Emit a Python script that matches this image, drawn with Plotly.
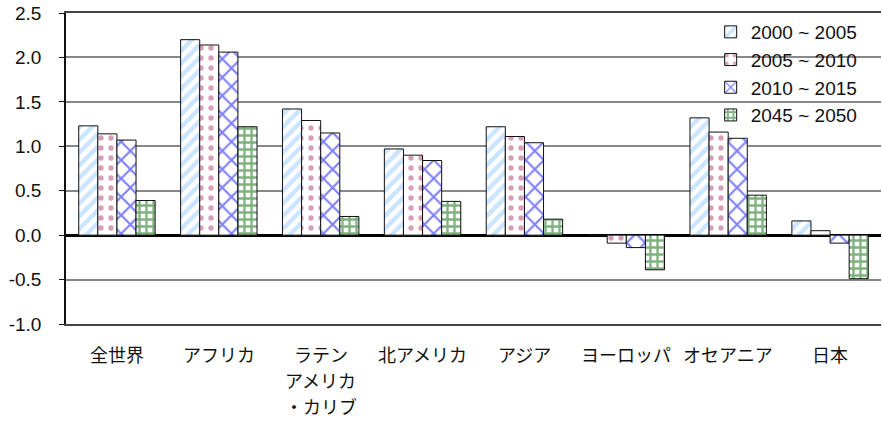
import plotly.graph_objects as go

# Regions (x-axis categories); the Latin America label wraps onto three lines
regions = ["全世界", "アフリカ", "ラテンアメリカ・カリブ", "北アメリカ", "アジア",
           "ヨーロッパ", "オセアニア", "日本"]
region_label_lines = [["全世界"], ["アフリカ"], ["ラテン", "アメリカ", "・カリブ"],
                      ["北アメリカ"], ["アジア"], ["ヨーロッパ"], ["オセアニア"], ["日本"]]

# Annual population growth rate (%) per period
periods = ["2000 ~ 2005", "2005 ~ 2010", "2010 ~ 2015", "2045 ~ 2050"]
g_2000_2005 = [1.23, 2.20, 1.42, 0.97, 1.22, 0.00, 1.32, 0.16]
g_2005_2010 = [1.14, 2.14, 1.29, 0.90, 1.11, -0.09, 1.16, 0.05]
g_2010_2015 = [1.07, 2.06, 1.15, 0.84, 1.04, -0.14, 1.09, -0.09]
g_2045_2050 = [0.39, 1.22, 0.21, 0.38, 0.18, -0.39, 0.45, -0.49]

y_ticks = [-1.0, -0.5, 0.0, 0.5, 1.0, 1.5, 2.0, 2.5]

series = [g_2000_2005, g_2005_2010, g_2010_2015, g_2045_2050]
patterns = [
    dict(shape="/", fgcolor="#99ccff", bgcolor="white", size=9, solidity=0.5),
    dict(shape=".", fgcolor="#b04070", bgcolor="white", size=10, solidity=0.22),
    dict(shape="x", fgcolor="#0000ff", bgcolor="white", size=13, solidity=0.3),
    dict(shape="+", fgcolor="#006400", bgcolor="white", size=7, solidity=0.55),
]

FONT = "Liberation Sans, Arial, Noto Sans CJK JP, sans-serif"
JP_FONT = "Noto Sans CJK JP, sans-serif"

fig = go.Figure()
for name, vals, pat in zip(periods, series, patterns):
    fig.add_trace(go.Bar(
        x=regions, y=vals, name=name,
        marker=dict(color="white", pattern=pat,
                    line=dict(color="#111111", width=1)),
    ))

# Category labels under the axis, one annotation per text line
for cat, lines in zip(regions, region_label_lines):
    for i, line in enumerate(lines):
        fig.add_annotation(
            x=cat, xref="x", y=0, yref="paper",
            text=line, showarrow=False,
            yanchor="middle", xanchor="center",
            yshift=-30 - 26 * i,
            font=dict(family=JP_FONT, size=18, color="#111111"),
        )

fig.update_layout(
    width=882, height=421,
    margin=dict(l=66, r=1, t=13, b=97),
    paper_bgcolor="white", plot_bgcolor="white",
    barmode="group", bargap=0.25, bargroupgap=0,
    font=dict(family=FONT, size=19, color="#111111"),
    showlegend=True,
    legend=dict(
        x=0.791, y=1.0, xanchor="left", yanchor="top",
        bgcolor="rgba(255,255,255,0)",
        font=dict(family=FONT, size=19, color="#111111"),
        itemwidth=30, tracegroupgap=0,
    ),
    xaxis=dict(
        showticklabels=False, ticks="", showgrid=False,
        showline=True, linecolor="#444444", linewidth=2, mirror=True,
        zeroline=False,
    ),
    yaxis=dict(
        range=[-1.0, 2.5], tickvals=y_ticks,
        ticktext=[f"{v:.1f}" for v in y_ticks],
        ticks="outside", ticklen=5, tickcolor="#111111",
        ticklabelstandoff=14,
        showgrid=True, gridcolor="#888888", gridwidth=1.5,
        zeroline=True, zerolinecolor="#000000", zerolinewidth=2.5,
        showline=True, linecolor="#111111", linewidth=1.5, mirror=False,
        tickfont=dict(family=FONT, size=19, color="#111111"),
    ),
)

fig.write_html("out.html")
